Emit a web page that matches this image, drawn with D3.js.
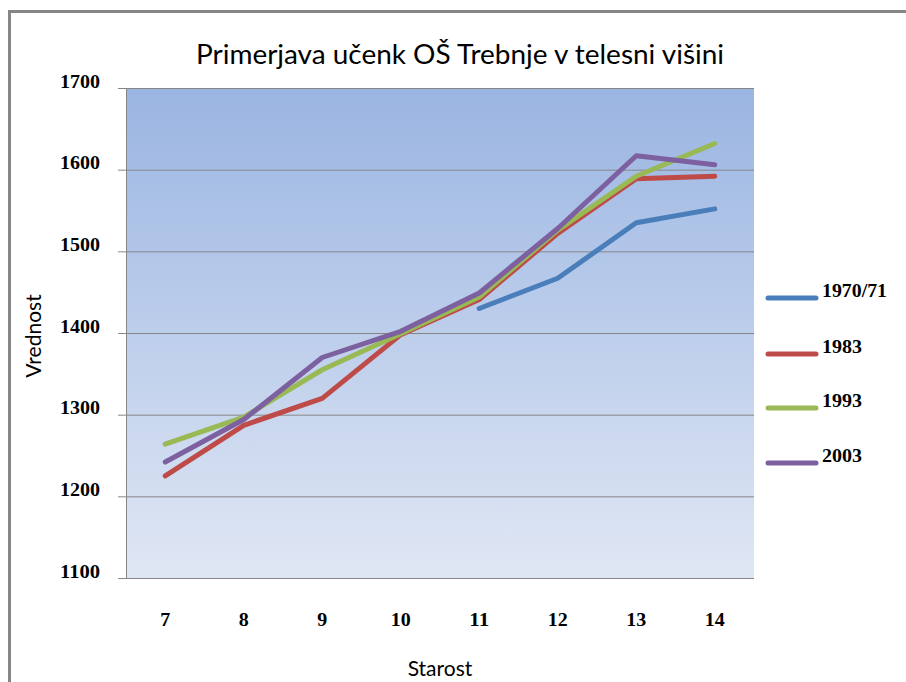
<!DOCTYPE html>
<html>
<head>
<meta charset="utf-8">
<script src="https://cdn.jsdelivr.net/npm/d3@7"></script>
<style>
  body { margin: 0; background: #fff; }
  svg text { fill: #000; }
</style>
</head>
<body>
<div id="chart"></div>
<script>
// data
const ages = ["7", "8", "9", "10", "11", "12", "13", "14"];
const yTicks = [1100, 1200, 1300, 1400, 1500, 1600, 1700];
const seriesNames = ["1970/71", "1983", "1993", "2003"];
const seriesColors = ["#4A7EBB", "#BE4B48", "#98B954", "#7D60A0"];
const v1970 = [null, null, null, null, 1430, 1467, 1535, 1552];
const v1983 = [1225, 1287, 1320, 1398, 1441, 1522, 1589, 1592];
const v1993 = [1264, 1297, 1355, 1399, 1444, 1526, 1592, 1632];
const v2003 = [1242, 1294, 1370, 1402, 1449, 1528, 1617, 1606];
const seriesValues = [v1970, v1983, v1993, v2003];

var width = 906, height = 682;
var _plot = { left: 126, right: 754, top: 88, bottom: 578 };

// the numbers in the picture are a tall bold face, roughly 10px per char
function numLen(s) {
  return s.replace("/", "").length * 10 + (s.includes("/") ? 5 : 0);
}

var svg = d3.select("#chart")
  .append("svg")
  .attr("width", width)
  .attr("height", height);

// outer chart border (runs off the right and bottom edges)
svg.append("rect")
  .attr("x", 9.5).attr("y", 11.5)
  .attr("width", 920).attr("height", 700)
  .attr("fill", "none")
  .attr("stroke", "#868686")
  .attr("stroke-width", 3);

// background gradient of the plot area
var defs = svg.append("defs");
var grad = defs.append("linearGradient")
  .attr("id", "plotBg")
  .attr("x1", 0).attr("y1", 0).attr("x2", 0).attr("y2", 1);
grad.append("stop").attr("offset", "0%").attr("stop-color", "#9AB5E2");
grad.append("stop").attr("offset", "100%").attr("stop-color", "#E0E7F4");

var x = d3.scaleBand()
  .domain(ages)
  .range([_plot.left, _plot.right]);

var y = d3.scaleLinear()
  .domain([1100, 1700])
  .range([_plot.bottom, _plot.top]);

svg.append("rect")
  .attr("x", _plot.left).attr("y", _plot.top)
  .attr("width", _plot.right - _plot.left)
  .attr("height", _plot.bottom - _plot.top)
  .attr("fill", "url(#plotBg)");

// gridlines + y axis
var yAxis = svg.append("g")
  .attr("class", "y-axis")
  .attr("transform", "translate(" + _plot.left + ",0)")
  .call(d3.axisLeft(y).tickValues(yTicks).tickSize(8).tickPadding(18)
    .tickFormat(d3.format("d")));
yAxis.select(".domain").remove();
yAxis.selectAll(".tick line")
  .attr("x2", _plot.right - _plot.left)
  .attr("x1", -8)
  .attr("stroke", "#868686");
yAxis.selectAll(".tick text")
  .attr("font-family", "'Liberation Serif', serif")
  .attr("font-weight", "bold")
  .attr("font-size", 19)
  .attr("dy", -1)
  .attr("textLength", d => numLen(String(d)))
  .attr("lengthAdjust", "spacingAndGlyphs");

svg.append("line")
  .attr("x1", _plot.left + 0.5).attr("x2", _plot.left + 0.5)
  .attr("y1", _plot.top).attr("y2", _plot.bottom)
  .attr("stroke", "#868686");

// x axis labels
var xAxis = svg.append("g")
  .attr("class", "x-axis")
  .attr("transform", "translate(0," + _plot.bottom + ")")
  .call(d3.axisBottom(x).tickSize(0).tickPadding(35));
xAxis.select(".domain").remove();
xAxis.selectAll(".tick text")
  .attr("font-family", "'Liberation Serif', serif")
  .attr("font-weight", "bold")
  .attr("font-size", 19)
  .attr("textLength", d => numLen(d))
  .attr("lengthAdjust", "spacingAndGlyphs");

// lines
var line = d3.line()
  .defined(d => d != null)
  .x((d, i) => x(ages[i]) + x.bandwidth() / 2)
  .y(d => y(d));

seriesValues.forEach((vals, k) => {
  svg.append("path")
    .datum(vals)
    .attr("fill", "none")
    .attr("stroke", seriesColors[k])
    .attr("stroke-width", 5)
    .attr("stroke-linejoin", "round")
    .attr("stroke-linecap", "round")
    .attr("d", line);
});

// legend
var legendY = [298, 354, 408, 463];
seriesNames.forEach((name, k) => {
  let g = svg.append("g").attr("transform", "translate(766," + legendY[k] + ")");
  g.append("line")
    .attr("x1", 2).attr("x2", 50)
    .attr("stroke", seriesColors[k])
    .attr("stroke-width", 5)
    .attr("stroke-linecap", "round");
  g.append("text")
    .attr("x", 56).attr("y", -1)
    .attr("font-family", "'Liberation Serif', serif")
    .attr("font-weight", "bold")
    .attr("font-size", 19)
    .attr("textLength", numLen(name))
    .attr("lengthAdjust", "spacingAndGlyphs")
    .text(name);
});

// titles
svg.append("text")
  .attr("x", 460).attr("y", 64)
  .attr("text-anchor", "middle")
  .attr("font-family", "Lato, sans-serif")
  .attr("font-size", 26)
  .attr("textLength", 528)
  .attr("lengthAdjust", "spacingAndGlyphs")
  .text("Primerjava učenk OŠ Trebnje v telesni višini");

svg.append("text")
  .attr("transform", "translate(41,336) rotate(-90)")
  .attr("text-anchor", "middle")
  .attr("font-family", "Lato, sans-serif")
  .attr("font-size", 21)
  .text("Vrednost");

svg.append("text")
  .attr("x", 440).attr("y", 676)
  .attr("text-anchor", "middle")
  .attr("font-family", "Lato, sans-serif")
  .attr("font-size", 21)
  .text("Starost");
</script>
</body>
</html>
